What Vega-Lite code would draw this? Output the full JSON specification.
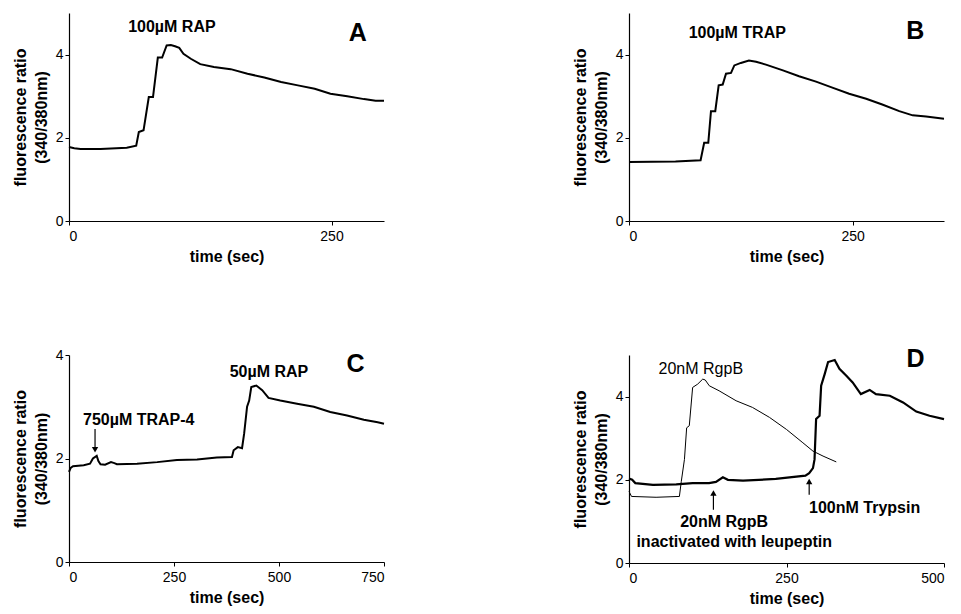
{
  "$schema": "https://vega.github.io/schema/vega-lite/v6.json",
  "background": "white",
  "padding": {"left": 12, "top": 13, "right": 5, "bottom": 5},
  "config": {
    "view": {"stroke": null},
    "font": "Liberation Sans",
    "axis": {"domainColor": "black", "tickColor": "black", "labelColor": "black", "titleColor": "black", "labelFont": "Liberation Sans", "titleFont": "Liberation Sans", "labelFontSize": 14, "titleFontSize": 16, "titleFontWeight": "bold", "grid": false, "tickSize": 4, "domainWidth": 1.2, "tickWidth": 1},
    "axisX": {"labelPadding": 4, "titlePadding": 5},
    "axisY": {"labelPadding": 2, "titlePadding": 6}
  },
  "datasets": {
    "lines": [
      {"p":"A","s":"a","t":0,"r":1.78},{"p":"A","s":"a","t":5,"r":1.75},{"p":"A","s":"a","t":11,"r":1.73},{"p":"A","s":"a","t":30,"r":1.73},{"p":"A","s":"a","t":55,"r":1.76},{"p":"A","s":"a","t":64,"r":1.81},{"p":"A","s":"a","t":66.5,"r":2.14},{"p":"A","s":"a","t":71,"r":2.18},{"p":"A","s":"a","t":76,"r":2.98},{"p":"A","s":"a","t":80,"r":2.98},{"p":"A","s":"a","t":84.6,"r":3.93},{"p":"A","s":"a","t":88.7,"r":3.93},{"p":"A","s":"a","t":93,"r":4.22},{"p":"A","s":"a","t":97,"r":4.23},{"p":"A","s":"a","t":101,"r":4.2},{"p":"A","s":"a","t":105,"r":4.16},{"p":"A","s":"a","t":109,"r":4.02},{"p":"A","s":"a","t":116,"r":3.9},{"p":"A","s":"a","t":125,"r":3.77},{"p":"A","s":"a","t":138,"r":3.7},{"p":"A","s":"a","t":154,"r":3.65},{"p":"A","s":"a","t":170,"r":3.54},{"p":"A","s":"a","t":186,"r":3.45},{"p":"A","s":"a","t":202,"r":3.34},{"p":"A","s":"a","t":218,"r":3.26},{"p":"A","s":"a","t":234,"r":3.18},{"p":"A","s":"a","t":249,"r":3.06},{"p":"A","s":"a","t":265,"r":3.0},{"p":"A","s":"a","t":281,"r":2.93},{"p":"A","s":"a","t":292,"r":2.89},{"p":"A","s":"a","t":300,"r":2.89},
      {"p":"B","s":"a","t":0,"r":1.42},{"p":"B","s":"a","t":52,"r":1.43},{"p":"B","s":"a","t":80,"r":1.46},{"p":"B","s":"a","t":84,"r":1.88},{"p":"B","s":"a","t":88.6,"r":1.88},{"p":"B","s":"a","t":91.6,"r":2.64},{"p":"B","s":"a","t":96.4,"r":2.64},{"p":"B","s":"a","t":100.2,"r":3.26},{"p":"B","s":"a","t":104.7,"r":3.28},{"p":"B","s":"a","t":108.4,"r":3.54},{"p":"B","s":"a","t":114,"r":3.56},{"p":"B","s":"a","t":117.7,"r":3.74},{"p":"B","s":"a","t":125,"r":3.8},{"p":"B","s":"a","t":134,"r":3.86},{"p":"B","s":"a","t":142,"r":3.83},{"p":"B","s":"a","t":153,"r":3.76},{"p":"B","s":"a","t":172,"r":3.62},{"p":"B","s":"a","t":190,"r":3.48},{"p":"B","s":"a","t":209,"r":3.35},{"p":"B","s":"a","t":228,"r":3.2},{"p":"B","s":"a","t":246,"r":3.06},{"p":"B","s":"a","t":265,"r":2.94},{"p":"B","s":"a","t":283,"r":2.8},{"p":"B","s":"a","t":302,"r":2.64},{"p":"B","s":"a","t":317,"r":2.54},{"p":"B","s":"a","t":332,"r":2.51},{"p":"B","s":"a","t":352,"r":2.46},
      {"p":"C","s":"a","t":0,"r":1.74},{"p":"C","s":"a","t":4,"r":1.82},{"p":"C","s":"a","t":9.5,"r":1.85},{"p":"C","s":"a","t":35,"r":1.87},{"p":"C","s":"a","t":50,"r":1.9},{"p":"C","s":"a","t":57,"r":2.0},{"p":"C","s":"a","t":66,"r":2.05},{"p":"C","s":"a","t":70,"r":1.95},{"p":"C","s":"a","t":75,"r":1.89},{"p":"C","s":"a","t":86,"r":1.88},{"p":"C","s":"a","t":100,"r":1.93},{"p":"C","s":"a","t":108,"r":1.91},{"p":"C","s":"a","t":114,"r":1.89},{"p":"C","s":"a","t":162,"r":1.9},{"p":"C","s":"a","t":210,"r":1.93},{"p":"C","s":"a","t":257,"r":1.97},{"p":"C","s":"a","t":305,"r":1.98},{"p":"C","s":"a","t":352,"r":2.02},{"p":"C","s":"a","t":388,"r":2.03},{"p":"C","s":"a","t":392,"r":2.16},{"p":"C","s":"a","t":402,"r":2.22},{"p":"C","s":"a","t":412,"r":2.2},{"p":"C","s":"a","t":417,"r":2.48},{"p":"C","s":"a","t":424,"r":3.0},{"p":"C","s":"a","t":429,"r":3.12},{"p":"C","s":"a","t":434,"r":3.38},{"p":"C","s":"a","t":446,"r":3.41},{"p":"C","s":"a","t":460,"r":3.32},{"p":"C","s":"a","t":475,"r":3.17},{"p":"C","s":"a","t":503,"r":3.12},{"p":"C","s":"a","t":543,"r":3.06},{"p":"C","s":"a","t":583,"r":3.0},{"p":"C","s":"a","t":622,"r":2.9},{"p":"C","s":"a","t":662,"r":2.83},{"p":"C","s":"a","t":702,"r":2.75},{"p":"C","s":"a","t":735,"r":2.7},{"p":"C","s":"a","t":750,"r":2.67},
      {"p":"D","s":"a","t":0,"r":2.03},{"p":"D","s":"a","t":5,"r":2.0},{"p":"D","s":"a","t":10,"r":1.92},{"p":"D","s":"a","t":38,"r":1.88},{"p":"D","s":"a","t":75,"r":1.89},{"p":"D","s":"a","t":101,"r":1.92},{"p":"D","s":"a","t":127,"r":1.92},{"p":"D","s":"a","t":138,"r":1.95},{"p":"D","s":"a","t":149,"r":2.06},{"p":"D","s":"a","t":157,"r":2.0},{"p":"D","s":"a","t":181,"r":1.98},{"p":"D","s":"a","t":233,"r":2.02},{"p":"D","s":"a","t":280,"r":2.1},{"p":"D","s":"a","t":286,"r":2.16},{"p":"D","s":"a","t":292,"r":2.28},{"p":"D","s":"a","t":294.5,"r":2.49},{"p":"D","s":"a","t":297,"r":3.46},{"p":"D","s":"a","t":302.5,"r":3.54},{"p":"D","s":"a","t":305,"r":4.26},{"p":"D","s":"a","t":310.6,"r":4.54},{"p":"D","s":"a","t":316,"r":4.83},{"p":"D","s":"a","t":326.5,"r":4.88},{"p":"D","s":"a","t":334,"r":4.67},{"p":"D","s":"a","t":345,"r":4.5},{"p":"D","s":"a","t":355,"r":4.34},{"p":"D","s":"a","t":368,"r":4.06},{"p":"D","s":"a","t":382,"r":4.16},{"p":"D","s":"a","t":392,"r":4.06},{"p":"D","s":"a","t":414,"r":4.02},{"p":"D","s":"a","t":435,"r":3.86},{"p":"D","s":"a","t":456,"r":3.64},{"p":"D","s":"a","t":477,"r":3.54},{"p":"D","s":"a","t":500,"r":3.46},
      {"p":"D","s":"b","t":0,"r":1.72},{"p":"D","s":"b","t":4,"r":1.6},{"p":"D","s":"b","t":43,"r":1.58},{"p":"D","s":"b","t":80,"r":1.6},{"p":"D","s":"b","t":83,"r":1.96},{"p":"D","s":"b","t":88,"r":2.49},{"p":"D","s":"b","t":91.5,"r":3.25},{"p":"D","s":"b","t":95.7,"r":3.3},{"p":"D","s":"b","t":101,"r":4.22},{"p":"D","s":"b","t":109,"r":4.3},{"p":"D","s":"b","t":117,"r":4.42},{"p":"D","s":"b","t":121,"r":4.4},{"p":"D","s":"b","t":127.5,"r":4.26},{"p":"D","s":"b","t":143,"r":4.14},{"p":"D","s":"b","t":170,"r":3.9},{"p":"D","s":"b","t":196,"r":3.74},{"p":"D","s":"b","t":223,"r":3.5},{"p":"D","s":"b","t":250,"r":3.21},{"p":"D","s":"b","t":276,"r":2.89},{"p":"D","s":"b","t":292,"r":2.69},{"p":"D","s":"b","t":308,"r":2.57},{"p":"D","s":"b","t":329,"r":2.43}
    ],
    "notes": [
      {"p":"A","k":"bold","t":98,"r":4.66,"label":"100µM RAP"},
      {"p":"A","k":"letter","t":275,"r":4.51,"label":"A"},
      {"p":"B","k":"bold","t":121,"r":4.52,"label":"100µM TRAP"},
      {"p":"B","k":"letter","t":320,"r":4.56,"label":"B"},
      {"p":"C","k":"bold","t":166,"r":2.74,"label":"750µM TRAP-4"},
      {"p":"C","k":"bold","t":476,"r":3.68,"label":"50µM RAP"},
      {"p":"C","k":"letter","t":682,"r":3.83,"label":"C"},
      {"p":"D","k":"plain","t":114,"r":4.67,"label":"20nM RgpB"},
      {"p":"D","k":"bold","t":151,"r":0.99,"label":"20nM RgpB"},
      {"p":"D","k":"bold","t":167,"r":0.51,"label":"inactivated with leupeptin"},
      {"p":"D","k":"bold","t":374,"r":1.32,"label":"100nM Trypsin"},
      {"p":"D","k":"letter","t":455,"r":4.91,"label":"D"}
    ],
    "arrows": [
      {"p":"C","dir":"down","t":62,"r":2.17,"r2":2.57},
      {"p":"D","dir":"up","t":134,"r":1.68,"r2":1.28},
      {"p":"D","dir":"up","t":286,"r":1.96,"r2":1.64}
    ]
  },
  "concat": [
    {
      "width": 315, "height": 208,
      "encoding": {
        "x": {"field":"t","type":"quantitative","scale":{"domain":[0,300],"nice":false,"zero":false},"axis":{"values":[0,250],"title":"time (sec)"}},
        "y": {"field":"r","type":"quantitative","scale":{"domain":[0,5],"nice":false},"axis":{"values":[0,2,4],"title":["fluorescence ratio","(340/380nm)"],"titleLineHeight":21}}
      },
      "layer": [
        {"data":{"name":"lines"},"transform":[{"filter":"datum.p==='A'"}],"mark":{"type":"line","color":"black","strokeWidth":2},"encoding":{}},
        {"data":{"name":"notes"},"transform":[{"filter":"datum.p==='A' && datum.k==='bold'"}],"mark":{"type":"text","fontWeight":"bold","fontSize":16,"color":"black"},"encoding":{"text":{"field":"label"}}},
        {"data":{"name":"notes"},"transform":[{"filter":"datum.p==='A' && datum.k==='letter'"}],"mark":{"type":"text","fontWeight":"bold","fontSize":25,"color":"black"},"encoding":{"text":{"field":"label"}}}
      ]
    },
    {
      "width": 315, "height": 208,
      "encoding": {
        "x": {"field":"t","type":"quantitative","scale":{"domain":[0,352],"nice":false,"zero":false},"axis":{"values":[0,250],"title":"time (sec)"}},
        "y": {"field":"r","type":"quantitative","scale":{"domain":[0,5],"nice":false},"axis":{"values":[0,2,4],"title":["fluorescence ratio","(340/380nm)"],"titleLineHeight":21}}
      },
      "layer": [
        {"data":{"name":"lines"},"transform":[{"filter":"datum.p==='B'"}],"mark":{"type":"line","color":"black","strokeWidth":2},"encoding":{}},
        {"data":{"name":"notes"},"transform":[{"filter":"datum.p==='B' && datum.k==='bold'"}],"mark":{"type":"text","fontWeight":"bold","fontSize":16,"color":"black"},"encoding":{"text":{"field":"label"}}},
        {"data":{"name":"notes"},"transform":[{"filter":"datum.p==='B' && datum.k==='letter'"}],"mark":{"type":"text","fontWeight":"bold","fontSize":25,"color":"black"},"encoding":{"text":{"field":"label"}}}
      ]
    },
    {
      "width": 315, "height": 207,
      "encoding": {
        "x": {"field":"t","type":"quantitative","scale":{"domain":[0,750],"nice":false,"zero":false},"axis":{"values":[0,250,500,750],"title":"time (sec)"}},
        "y": {"field":"r","type":"quantitative","scale":{"domain":[0,4],"nice":false},"axis":{"values":[0,2,4],"title":["fluorescence ratio","(340/380nm)"],"titleLineHeight":21}}
      },
      "layer": [
        {"data":{"name":"lines"},"transform":[{"filter":"datum.p==='C'"}],"mark":{"type":"line","color":"black","strokeWidth":2},"encoding":{}},
        {"data":{"name":"notes"},"transform":[{"filter":"datum.p==='C' && datum.k==='bold'"}],"mark":{"type":"text","fontWeight":"bold","fontSize":16,"color":"black"},"encoding":{"text":{"field":"label"}}},
        {"data":{"name":"notes"},"transform":[{"filter":"datum.p==='C' && datum.k==='letter'"}],"mark":{"type":"text","fontWeight":"bold","fontSize":25,"color":"black"},"encoding":{"text":{"field":"label"}}},
        {"data":{"name":"arrows"},"transform":[{"filter":"datum.p==='C'"}],"mark":{"type":"rule","color":"black","strokeWidth":1.2},"encoding":{"y2":{"field":"r2"}}},
        {"data":{"name":"arrows"},"transform":[{"filter":"datum.p==='C'"}],"mark":{"type":"point","shape":"triangle-down","filled":true,"color":"black","size":40,"opacity":1},"encoding":{}}
      ]
    },
    {
      "width": 315, "height": 208,
      "encoding": {
        "x": {"field":"t","type":"quantitative","scale":{"domain":[0,500],"nice":false,"zero":false},"axis":{"values":[0,250,500],"title":"time (sec)"}},
        "y": {"field":"r","type":"quantitative","scale":{"domain":[0,5],"nice":false},"axis":{"values":[0,2,4],"title":["fluorescence ratio","(340/380nm)"],"titleLineHeight":21}}
      },
      "layer": [
        {"data":{"name":"lines"},"transform":[{"filter":"datum.p==='D' && datum.s==='b'"}],"mark":{"type":"line","color":"black","strokeWidth":1},"encoding":{}},
        {"data":{"name":"lines"},"transform":[{"filter":"datum.p==='D' && datum.s==='a'"}],"mark":{"type":"line","color":"black","strokeWidth":2.2},"encoding":{}},
        {"data":{"name":"notes"},"transform":[{"filter":"datum.p==='D' && datum.k==='plain'"}],"mark":{"type":"text","fontSize":16,"color":"black"},"encoding":{"text":{"field":"label"}}},
        {"data":{"name":"notes"},"transform":[{"filter":"datum.p==='D' && datum.k==='bold'"}],"mark":{"type":"text","fontWeight":"bold","fontSize":16,"color":"black"},"encoding":{"text":{"field":"label"}}},
        {"data":{"name":"notes"},"transform":[{"filter":"datum.p==='D' && datum.k==='letter'"}],"mark":{"type":"text","fontWeight":"bold","fontSize":25,"color":"black"},"encoding":{"text":{"field":"label"}}},
        {"data":{"name":"arrows"},"transform":[{"filter":"datum.p==='D'"}],"mark":{"type":"rule","color":"black","strokeWidth":1.2},"encoding":{"y2":{"field":"r2"}}},
        {"data":{"name":"arrows"},"transform":[{"filter":"datum.p==='D'"}],"mark":{"type":"point","shape":"triangle-up","filled":true,"color":"black","size":40,"opacity":1},"encoding":{}}
      ]
    }
  ],
  "columns": 2,
  "spacing": {"row": 82, "column": 184}
}
